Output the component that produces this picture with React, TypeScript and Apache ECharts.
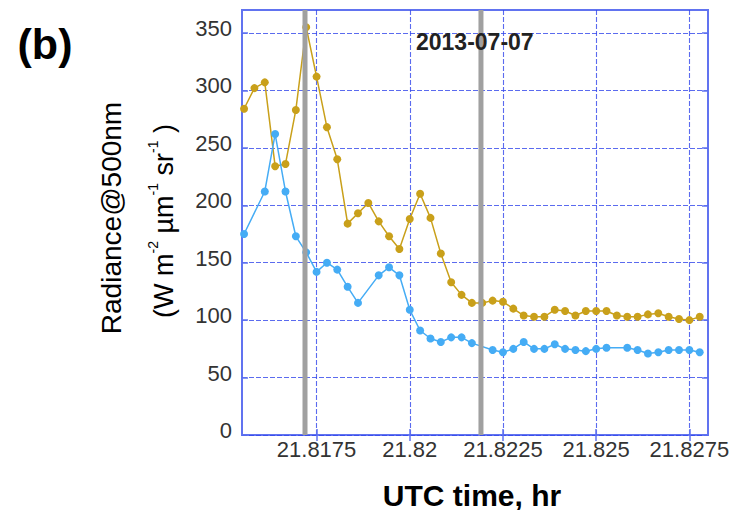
import React, { useEffect, useRef } from "react";
import * as echarts from "echarts";

// Sample times (seconds of day, UTC), one sample per second
const sampleSeconds = [
  78536, 78537, 78538, 78539, 78540, 78541, 78542, 78543, 78544, 78545,
  78546, 78547, 78548, 78549, 78550, 78551, 78552, 78553, 78554, 78555,
  78556, 78557, 78558, 78559, 78560, 78561, 78562, 78563, 78564, 78565,
  78566, 78567, 78568, 78569, 78570, 78571, 78572, 78573, 78574, 78575,
  78576, 78577, 78578, 78579, 78580,
];

// Radiance at 500 nm (W m^-2 µm^-1 sr^-1)
const goldRadiance = [
  284, 302, 307, 234, 236, 283, 355, 312, 268, 240,
  184, 193, 202, 186, 173, 162, 188, 210, 189, 158,
  133, 122, 115, 115, 117, 116, 110, 104, 103, 103,
  109, 108, 104, 108, 108, 108, 104, 103, 103, 105,
  106, 103, 101, 100, 103,
];

const blueRadiance: (number | null)[] = [
  175, null, 212, 262, 212, 173, 159, 142, 150, 144,
  129, 115, null, 139, 146, 139, 109, 91, 84, 81,
  85, 85, 80, null, 74, 72, 75, 81, 75, 75,
  79, 75, 74, 73, 75, 76, null, 76, 74, 71,
  72, 74, 74, 74, 72,
];

const xTickLabels = ["21.8175", "21.82", "21.8225", "21.825", "21.8275"];
const yTickValues = [0, 50, 100, 150, 200, 250, 300, 350];
const shadedTimes = [21.81719, 21.82191];
const dateLabel = "2013-07-07";
const panelLabel = "(b)";
const xTitle = "UTC time, hr";
const yTitleLine1 = "Radiance@500nm";

const X_MIN = 21.8155;
const X_MAX = 21.828;
const Y_MIN = 0;
const Y_MAX = 370;

const FONT = "'Liberation Sans', Arial, Helvetica, sans-serif";
const FRAME = "#6173f0";
const GRID_LINE = "rgba(50, 70, 235, 0.8)";

export default function App() {
  const ref = useRef<HTMLDivElement>(null);

  useEffect(() => {
    if (!ref.current) return;
    const chart = echarts.init(ref.current, undefined, { renderer: "svg" });

    const hours = sampleSeconds.map((s) => s / 3600);
    const goldData = hours.map((h, i) => [h, goldRadiance[i]]);
    const blueData = hours.map((h, i) => [h, blueRadiance[i]]);
    const xTicks = xTickLabels.map(Number);

    const tickStyle = { color: FRAME, width: 1.5 };
    const splitStyle = { color: GRID_LINE, width: 1.1, type: [5, 2] as number[] };

    // shaded instants drawn as thick vertical gray lines spanning the full y range
    const shadeSeries = shadedTimes.map((t, i) => ({
      name: `shade${i}`,
      type: "line",
      data: [
        [t, Y_MIN],
        [t, Y_MAX],
      ],
      symbol: "none",
      silent: true,
      lineStyle: { color: "#a0a0a0", width: 5 },
      z: 6,
    }));

    chart.setOption({
      animation: false,
      backgroundColor: "#ffffff",
      grid: {
        left: 242,
        right: 27,
        top: 10,
        bottom: 75,
        show: true,
        borderColor: FRAME,
        borderWidth: 2,
        backgroundColor: "transparent",
      },
      xAxis: [
        {
          type: "value",
          min: X_MIN,
          max: X_MAX,
          axisLine: { show: false },
          axisTick: { show: true, inside: true, length: 6, customValues: xTicks, lineStyle: tickStyle },
          axisLabel: {
            customValues: xTicks,
            margin: 3,
            fontSize: 22,
            fontFamily: FONT,
            color: "#333333",
            formatter: (v: number) => {
              const idx = xTicks.findIndex((t) => Math.abs(t - v) < 1e-7);
              return idx >= 0 ? xTickLabels[idx] : "";
            },
          },
          splitLine: { show: true, lineStyle: splitStyle },
        },
        {
          type: "value",
          position: "top",
          min: X_MIN,
          max: X_MAX,
          axisLine: { show: false },
          axisTick: { show: true, inside: true, length: 6, customValues: xTicks, lineStyle: tickStyle },
          axisLabel: { show: false },
          splitLine: { show: false },
        },
      ],
      yAxis: [
        {
          type: "value",
          min: Y_MIN,
          max: Y_MAX,
          axisLine: { show: false },
          axisTick: { show: true, inside: true, length: 6, customValues: yTickValues, lineStyle: tickStyle },
          axisLabel: {
            customValues: yTickValues,
            margin: 10,
            // a short spacer line below each value lifts the number slightly above its tick
            formatter: (v: number) => `{t|${v}}\n{g| }`,
            rich: {
              t: { fontSize: 22, fontFamily: FONT, color: "#333333", lineHeight: 22 },
              g: { fontSize: 6, lineHeight: 9 },
            },
          },
          splitLine: { show: true, lineStyle: splitStyle },
        },
        {
          type: "value",
          position: "right",
          min: Y_MIN,
          max: Y_MAX,
          axisLine: { show: false },
          axisTick: { show: true, inside: true, length: 6, customValues: yTickValues, lineStyle: tickStyle },
          axisLabel: { show: false },
          splitLine: { show: false },
        },
      ],
      series: [
        {
          name: "gold",
          type: "line",
          data: goldData,
          symbol: "circle",
          symbolSize: 8,
          itemStyle: { color: "#c9a01a" },
          lineStyle: { color: "#c9a01a", width: 1.5 },
          z: 2,
        },
        {
          name: "blue",
          type: "line",
          data: blueData,
          connectNulls: true,
          symbol: "circle",
          symbolSize: 8,
          itemStyle: { color: "#45acf5" },
          lineStyle: { color: "#45acf5", width: 1.5 },
          z: 3,
        },
        ...shadeSeries,
      ],
      graphic: [
        {
          type: "text",
          x: 45,
          y: 44,
          style: {
            text: panelLabel,
            fontSize: 43,
            fontWeight: "bold",
            fontFamily: FONT,
            fill: "#000000",
            align: "center",
            verticalAlign: "middle",
          },
        },
        {
          type: "text",
          x: 416,
          y: 42,
          z: 10,
          style: {
            text: dateLabel,
            fontSize: 23,
            fontWeight: "bold",
            fontFamily: FONT,
            fill: "#222222",
            align: "left",
            verticalAlign: "middle",
          },
        },
        {
          type: "text",
          x: 472,
          y: 495,
          style: {
            text: xTitle,
            fontSize: 30,
            fontWeight: "bold",
            fontFamily: FONT,
            fill: "#000000",
            align: "center",
            verticalAlign: "middle",
          },
        },
        {
          type: "text",
          x: 111,
          y: 218,
          rotation: Math.PI / 2,
          style: {
            text: yTitleLine1,
            fontSize: 28,
            fontFamily: FONT,
            fill: "#000000",
            align: "center",
            verticalAlign: "middle",
          },
        },
        {
          type: "text",
          x: 164,
          y: 221,
          rotation: Math.PI / 2,
          style: {
            text: "{n|(W m}{s|-2}{n| µm}{s|-1}{n| sr}{s|-1}{n| )}",
            fontSize: 27,
            fontFamily: FONT,
            fill: "#000000",
            align: "center",
            verticalAlign: "middle",
            rich: {
              n: { fontSize: 27, fontFamily: FONT, fill: "#000000", lineHeight: 36 },
              s: { fontSize: 14, fontFamily: FONT, fill: "#000000", lineHeight: 14, verticalAlign: "top" },
            },
          },
        },
      ],
    });

    return () => chart.dispose();
  }, []);

  return (
    <div
      ref={ref}
      style={{ position: "fixed", left: 0, top: 0, width: 735, height: 510, background: "#ffffff" }}
    />
  );
}
